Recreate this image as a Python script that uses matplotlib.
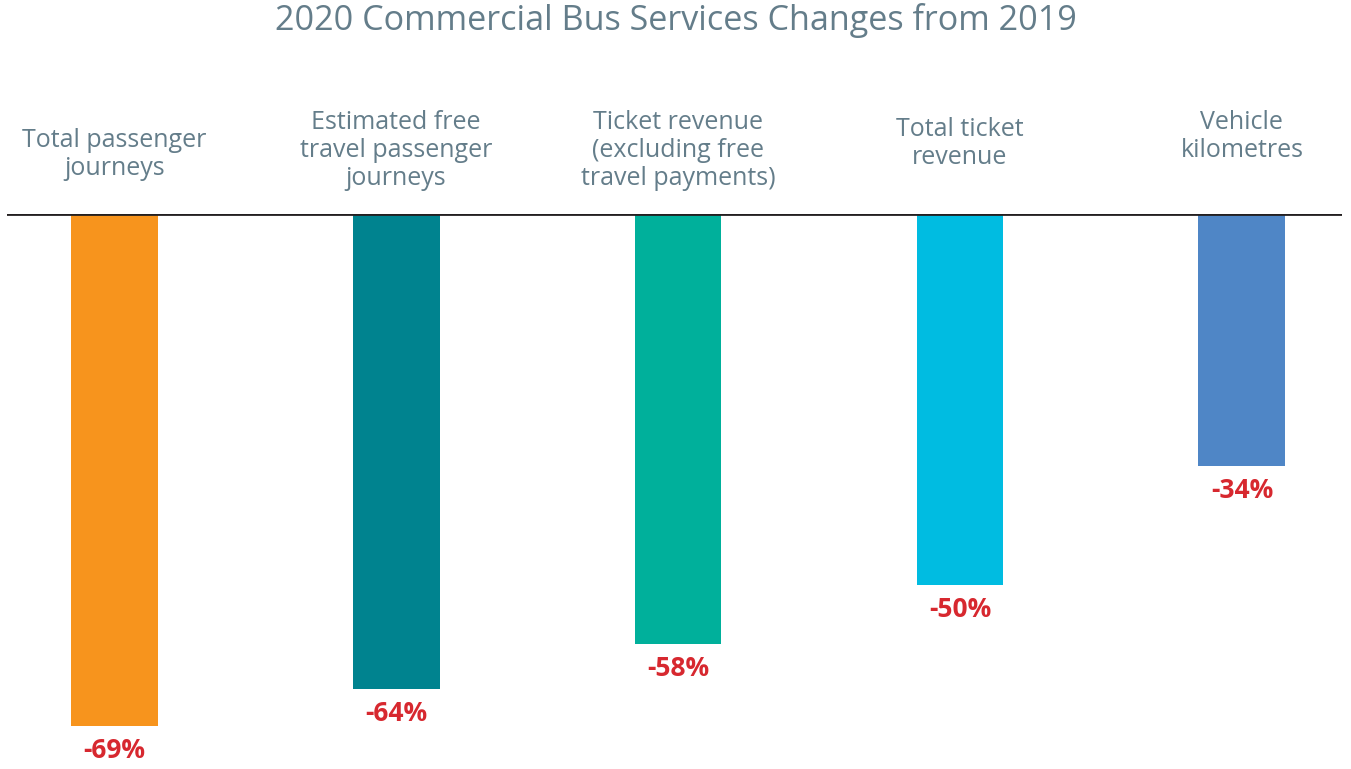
import matplotlib
matplotlib.use('Agg')
import matplotlib.pyplot as plt

categories = [
    'Total passenger\njourneys',
    'Estimated free\ntravel passenger\njourneys',
    'Ticket revenue\n(excluding free\ntravel payments)',
    'Total ticket\nrevenue',
    'Vehicle\nkilometres',
]
changes = [-69, -64, -58, -50, -34]
colors = ['#F7941D', '#00838F', '#00B09B', '#00BCE1', '#4F86C6']

# vertical placement of each header (pixels above the baseline, to the text top)
label_tops = [86, 104, 104, 97, 104]

W, H = 1351, 769
fig = plt.figure(figsize=(W / 100, H / 100), dpi=100)
plt.rcParams['font.family'] = ['Open Sans', 'DejaVu Sans']

base_y = 214
px_per_pct = 7.42
ax = fig.add_axes([7 / W, 0, 1335 / W, (H - base_y) / H])
ax.set_xlim(-0.38, 4.355)
ax.set_ylim(-(H - base_y) / px_per_pct, 0)
ax.axis('off')

x = range(len(changes))
ax.bar(x, changes, width=0.308, color=colors, zorder=2)
ax.axhline(0, color='#231F20', lw=2, zorder=3)

text_col = '#647D8A'
for i, (cat, val) in enumerate(zip(categories, changes)):
    ax.annotate('%d%%' % val, (i, val), xytext=(0, -11), textcoords='offset pixels',
                ha='center', va='top', fontsize=19, fontweight='bold', color='#D7282F')
    ax.annotate(cat, (i, 0), xytext=(0, label_tops[i]), textcoords='offset pixels',
                ha='center', va='top', fontsize=18, color=text_col, linespacing=1.17)

fig.text(0.5, 1 - 21 / H, '2020 Commercial Bus Services Changes from 2019',
         ha='center', va='center', fontsize=24.6, color=text_col)

fig.savefig('out.png', dpi=100, facecolor='white')
